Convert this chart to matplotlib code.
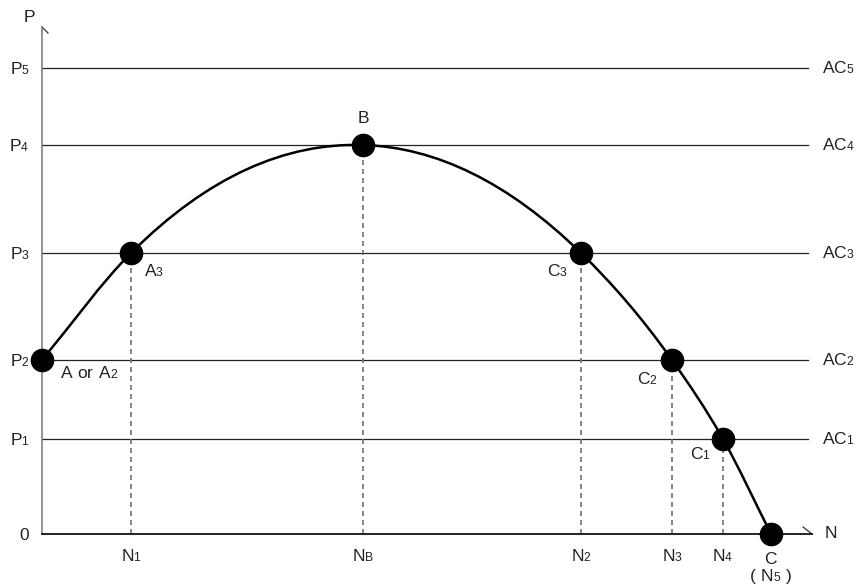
import matplotlib.pyplot as plt
import matplotlib._mathtext as mathtext_internal
import numpy as np
from matplotlib.path import Path
from matplotlib.patches import PathPatch

plt.rcParams['font.family'] = ['Liberation Sans', 'DejaVu Sans']
plt.rcParams['mathtext.fontset'] = 'custom'
plt.rcParams['mathtext.rm'] = 'Liberation Sans'
# keep subscripts close to the baseline, like the original drawing
mathtext_internal.FontConstantsBase.sub1 = 0.05
mathtext_internal.FontConstantsBase.subdrop = 0.05

# price levels (P1..P5) and quantities, in chart units
p_levels = [95, 174, 281, 389, 466]
p_labels = ['P_1', 'P_2', 'P_3', 'P_4', 'P_5']
ac_labels = ['AC_1', 'AC_2', 'AC_3', 'AC_4', 'AC_5']

n_ticks = [89, 321, 539, 630, 681]
n_labels = ['N_1', 'N_B', 'N_2', 'N_3', 'N_4']

# points on the curve: A2, A3, B, C3, C2, C1, C
curve_n = [0, 89, 321, 539, 630, 681, 729]
curve_p = [174, 281, 389, 281, 174, 95, 0]
point_names = ['A or A_2', 'A_3', 'B', 'C_3', 'C_2', 'C_1', 'C']

x_max, y_max = 770, 507
line_end = 766
fs = 12.5


def m(s):
    return r'$\mathregular{' + s.replace(' ', r'\ ') + '}$'


fig = plt.figure(figsize=(8.61, 5.88), dpi=100)
ax = fig.add_axes([42 / 861, 54 / 588, 770 / 861, 507 / 588])
ax.set_xlim(0, x_max)
ax.set_ylim(0, y_max)

for s in ['top', 'right']:
    ax.spines[s].set_visible(False)
ax.spines['left'].set_color('#808080')
ax.spines['left'].set_linewidth(1.2)
ax.spines['bottom'].set_color('black')
ax.spines['bottom'].set_linewidth(1.2)

txt = '#222222'
ax.set_yticks([0] + p_levels)
ax.set_yticklabels(['0'] + [m(s) for s in p_labels], fontsize=fs, color=txt)
ax.tick_params(axis='y', length=0, pad=9)
ax.set_xticks(n_ticks)
ax.set_xticklabels([m(s) for s in n_labels], fontsize=fs, color=txt)
ax.tick_params(axis='x', length=0, pad=10)

# horizontal AC lines
for p, lab in zip(p_levels, ac_labels):
    ax.plot([0, line_end], [p, p], color='#222222', lw=0.9, clip_on=False)
    ax.text(line_end + 14, p, m(lab), fontsize=fs, color=txt,
            ha='left', va='center', clip_on=False)

# dashed drop lines
for n, p in zip(curve_n[1:-1], curve_p[1:-1]):
    ax.plot([n, n], [0, p], color='#707070', lw=1.2,
            dashes=(3, 2.4), zorder=2)

# smooth curve through the points (cubic Hermite as Bezier path)
x = np.array(curve_n, float)
y = np.array(curve_p, float)
h = np.diff(x)
d = np.diff(y) / h
slopes = np.zeros_like(x)
slopes[0] = d[0]
slopes[-1] = d[-1]
for i in range(1, len(x) - 1):
    slopes[i] = (h[i] * d[i - 1] + h[i - 1] * d[i]) / (h[i - 1] + h[i])
verts = [(x[0], y[0])]
codes = [Path.MOVETO]
for i in range(len(x) - 1):
    hh = h[i] / 3
    verts += [(x[i] + hh, y[i] + slopes[i] * hh),
              (x[i + 1] - hh, y[i + 1] - slopes[i + 1] * hh),
              (x[i + 1], y[i + 1])]
    codes += [Path.CURVE4] * 3
ax.add_patch(PathPatch(Path(verts, codes), fc='none', ec='black',
                       lw=1.8, zorder=3, clip_on=False))

ax.plot(curve_n, curve_p, 'o', color='black', ms=16, zorder=4, clip_on=False)

# point labels (offsets in pixels)
offsets = [(18, -13, 'left'), (13, -18, 'left'), (0, 27, 'center'),
           (-13, -18, 'right'), (-14, -19, 'right'), (-12, -15, 'right'),
           (0, -25, 'center')]
for n, p, name, (dx, dy, ha) in zip(curve_n, curve_p, point_names, offsets):
    ax.annotate(m(name), (n, p), xytext=(dx * 0.72, dy * 0.72),
                textcoords='offset points', ha=ha, va='center',
                fontsize=fs, color=txt, annotation_clip=False)
ax.annotate(m('( N_5 )'), (curve_n[-1], 0), xytext=(0, -42 * 0.72),
            textcoords='offset points', ha='center', va='center',
            fontsize=fs, color=txt, annotation_clip=False)

# axis end marks and names
ax.plot([0, 6], [y_max, y_max - 6], color='#333333', lw=0.9, clip_on=False)
ax.plot([x_max - 9, x_max], [7, 0], color='#333333', lw=0.9, clip_on=False)
ax.text(-13, y_max + 10, 'P', fontsize=fs, color=txt, ha='center',
        va='center', clip_on=False)
ax.text(x_max + 19, 0, 'N', fontsize=fs, color=txt, ha='center',
        va='center', clip_on=False)

fig.savefig('out.png', dpi=100)
